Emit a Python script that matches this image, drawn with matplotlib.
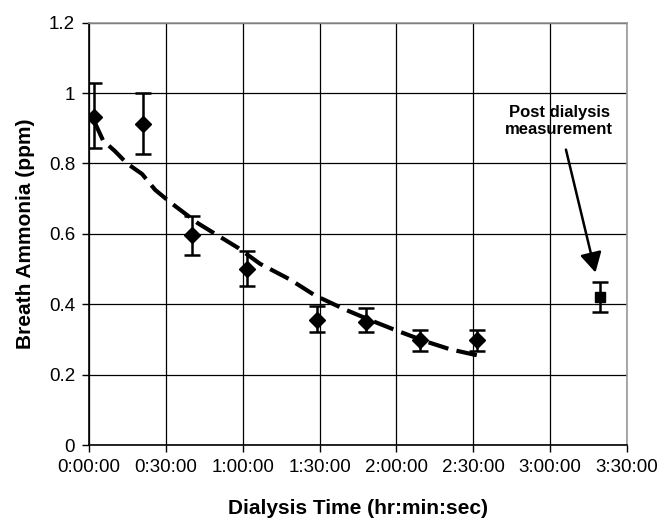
import matplotlib
matplotlib.use("Agg")
import matplotlib.pyplot as plt
from matplotlib.ticker import FixedLocator, FuncFormatter

plt.rcParams['font.family'] = ['Liberation Sans', 'DejaVu Sans']

# Measurements during dialysis (time in minutes)
time_min = [2.0, 21.1, 40.2, 61.7, 89.0, 108.1, 129.2, 151.4]
ammonia = [0.933, 0.911, 0.596, 0.500, 0.355, 0.349, 0.298, 0.298]
err_low = [0.843, 0.826, 0.539, 0.451, 0.320, 0.320, 0.267, 0.267]
err_high = [1.027, 1.001, 0.650, 0.550, 0.394, 0.389, 0.326, 0.326]

# Post dialysis measurement
post_time = [199.5]
post_val = [0.420]
post_low = [0.377]
post_high = [0.462]

# Trend line
trend_t = [2.0, 5.5, 10.1, 14.8, 20.7, 25.8, 31.6, 42.5, 49.2, 58.2, 66.7,
           78.5, 88.2, 99.9, 109.7, 119.4, 131.1, 140.9, 151.4]
trend_v = [0.92, 0.865, 0.835, 0.80, 0.77, 0.725, 0.69, 0.63, 0.60, 0.56, 0.515,
           0.47, 0.425, 0.385, 0.355, 0.327, 0.295, 0.272, 0.255]

x_ticks = [0, 30, 60, 90, 120, 150, 180, 210]
y_ticks = [0, 0.2, 0.4, 0.6, 0.8, 1.0, 1.2]

fig = plt.figure(figsize=(6.62, 5.23), dpi=100)
ax = fig.add_axes([89 / 662, 1 - 445 / 523, (627 - 89) / 662, (445 - 22.6) / 523])

ax.set_xlim(0, 210)
ax.set_ylim(0, 1.2)
ax.xaxis.set_major_locator(FixedLocator(x_ticks))
ax.yaxis.set_major_locator(FixedLocator(y_ticks))
ax.xaxis.set_major_formatter(FuncFormatter(lambda v, p: f"{int(v)//60}:{int(v)%60:02d}:00"))
ax.yaxis.set_major_formatter(FuncFormatter(lambda v, p: f"{v:g}"))
ax.grid(True, color='black', linewidth=0.9)
ax.set_axisbelow(True)

for s in ['top', 'right']:
    ax.spines[s].set_color('#999999')
    ax.spines[s].set_linewidth(1.2)
for s in ['left', 'bottom']:
    ax.spines[s].set_color('black')
    ax.spines[s].set_linewidth(1.2)

ax.tick_params(axis='both', direction='out', length=5, width=1, labelsize=13.5, colors='black')
ax.tick_params(axis='x', pad=5)
ax.tick_params(axis='y', pad=5)

# trend line
ax.plot(trend_t, trend_v, color='black', linewidth=3.0, dashes=(5, 2.0), zorder=3)

# data with error bars
yerr = [[a - l for a, l in zip(ammonia, err_low)], [h - a for a, h in zip(ammonia, err_high)]]
ax.errorbar(time_min, ammonia, yerr=yerr, fmt='D', color='black', markersize=8,
            elinewidth=1.8, capsize=6, capthick=1.8, zorder=4)

perr = [[a - l for a, l in zip(post_val, post_low)], [h - a for a, h in zip(post_val, post_high)]]
ax.errorbar(post_time, post_val, yerr=perr, fmt='s', color='black', markersize=7,
            elinewidth=1.8, capsize=6, capthick=1.8, zorder=4)

ax.annotate("Post dialysis\nmeasurement", xy=(post_time[0] - 1.8, 0.49),
            xytext=(183.5, 0.92), ha='center', va='center', fontsize=12, fontweight='bold',
            linespacing=1.2,
            arrowprops=dict(arrowstyle='-|>,head_length=1.0,head_width=0.55', color='black',
                            linewidth=1.8, shrinkA=7, shrinkB=0))

ax.set_xlabel("Dialysis Time (hr:min:sec)", fontsize=15, fontweight='bold', labelpad=17)
ax.set_ylabel("Breath Ammonia (ppm)", fontsize=15, fontweight='bold', labelpad=10)

fig.savefig("out.png", dpi=100)
